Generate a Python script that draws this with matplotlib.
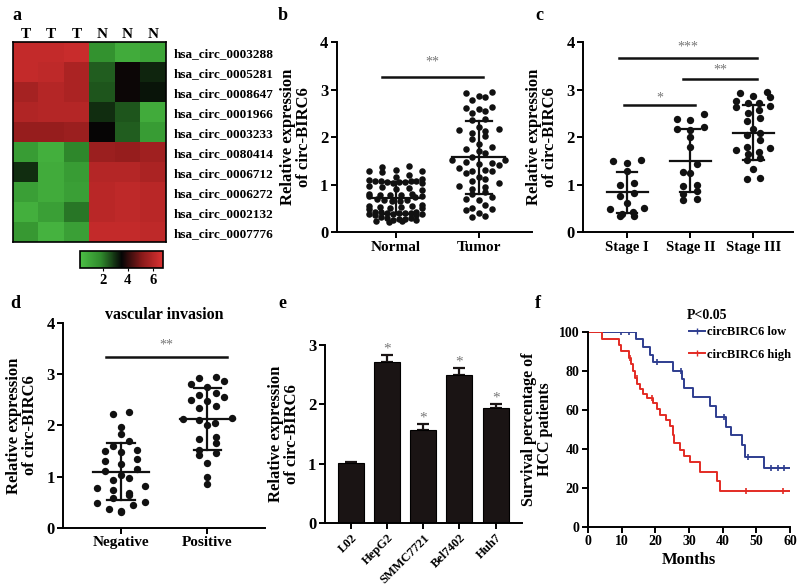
import numpy as np
import matplotlib
matplotlib.use("Agg")
import matplotlib.pyplot as plt
from matplotlib.colors import LinearSegmentedColormap
from matplotlib.lines import Line2D

plt.rcParams['font.family'] = ['Liberation Serif', 'DejaVu Serif']
plt.rcParams['font.weight'] = 'bold'
plt.rcParams['axes.labelweight'] = 'bold'

# ---- a: heatmap
col_labels = ['T', 'T', 'T', 'N', 'N', 'N']
row_labels = ['hsa_circ_0003288', 'hsa_circ_0005281', 'hsa_circ_0008647', 'hsa_circ_0001966',
              'hsa_circ_0003233', 'hsa_circ_0080414', 'hsa_circ_0006712', 'hsa_circ_0006272',
              'hsa_circ_0002132', 'hsa_circ_0007776']
heat = [
    [6.3, 6.3, 6.4, 1.6, 0.8, 1.0],
    [6.3, 6.2, 5.8, 2.4, 3.6, 3.1],
    [5.7, 6.0, 5.8, 2.5, 3.6, 3.3],
    [5.9, 6.0, 6.0, 3.0, 2.5, 0.8],
    [5.4, 5.4, 5.5, 3.5, 2.4, 1.3],
    [1.3, 0.7, 1.9, 5.5, 5.4, 5.6],
    [3.0, 0.8, 1.3, 6.0, 6.0, 5.8],
    [1.2, 0.8, 1.2, 6.1, 6.2, 6.1],
    [0.7, 1.2, 2.1, 6.1, 6.2, 6.1],
    [1.4, 0.6, 1.2, 6.3, 6.3, 6.2],
]

# ---- b: normal vs tumor
normal = [1.40, 1.37, 1.31, 1.29, 1.29, 1.26, 1.21, 1.17,
          1.12, 1.10, 1.09, 1.08, 1.07, 1.06, 1.05, 1.04, 1.03, 1.05, 1.08,
          0.96, 0.94, 0.92, 0.97, 0.90,
          0.80, 0.79, 0.78, 0.77, 0.76, 0.78, 0.75, 0.80,
          0.68, 0.66, 0.65, 0.67, 0.70,
          0.57, 0.55, 0.53, 0.52, 0.50, 0.54, 0.56, 0.51,
          0.43, 0.42, 0.41, 0.40, 0.39, 0.38, 0.37, 0.36, 0.40, 0.42, 0.38, 0.41,
          0.33, 0.31, 0.30, 0.28, 0.27, 0.26, 0.25, 0.24, 0.23, 0.22]
tumor = [2.93, 2.85, 2.78, 2.88, 2.95,
         2.63, 2.56, 2.51, 2.60, 2.62,
         2.38, 2.36,
         2.22, 2.15, 2.08, 2.13, 2.18, 2.02, 1.97,
         1.86, 1.75, 1.72, 1.80,
         1.66, 1.58, 1.52, 1.49, 1.53, 1.46, 1.41, 1.43,
         1.35, 1.30, 1.28, 1.31,
         1.17, 1.12, 1.08, 1.24,
         1.03, 0.98, 0.95, 0.92,
         0.84, 0.80, 0.74, 0.68, 0.70,
         0.50, 0.47, 0.52, 0.57,
         0.40, 0.35, 0.33]
b_groups = ['Normal', 'Tumor']
b_mean = [0.72, 1.58]
b_sd = [0.33, 0.77]

# ---- c: stages
stage1 = [1.52, 1.46, 1.50, 1.30, 1.00, 1.04, 0.83, 0.76, 0.61, 0.50, 0.52, 0.39, 0.34, 0.34, 0.43]
stage2 = [2.50, 2.38, 2.36, 2.22, 2.17, 2.16, 2.00, 1.79, 1.43, 1.25, 1.27, 1.00, 0.97,
          0.87, 0.80, 0.67, 0.70]
stage3 = [2.95, 2.88, 2.93, 2.84, 2.77, 2.72, 2.64, 2.73, 2.66, 2.57, 2.52, 2.41, 2.34, 2.18,
          2.05, 2.08, 1.94, 1.73, 1.80, 1.77, 1.64, 1.57, 1.68, 1.52, 1.34, 1.15, 1.13]
c_groups = ['Stage I', 'Stage II', 'Stage III']
c_mean = [0.84, 1.51, 2.10]
c_sd = [0.43, 0.66, 0.58]

# ---- d: vascular invasion
negative = [2.22, 2.26, 1.97, 1.83, 1.69, 1.60, 1.48, 1.52, 1.50, 1.30, 1.34, 1.24, 1.16, 1.12,
            1.03, 0.98, 0.93, 0.82, 0.75, 0.78, 0.68, 0.64, 0.49, 0.59, 0.45, 0.50, 0.38, 0.32, 0.34]
positive = [2.93, 2.87, 2.95, 2.74, 2.80, 2.59, 2.63, 2.50, 2.47, 2.55, 2.38, 2.33, 2.13, 2.05,
            2.00, 2.10, 2.15, 1.73, 1.78, 1.65, 1.53, 1.42, 1.46, 1.27, 0.99, 0.85]
d_groups = ['Negative', 'Positive']
d_mean = [1.10, 2.12]
d_sd = [0.56, 0.60]

# ---- e: cell lines
cell_lines = ['L02', 'HepG2', 'SMMC7721', 'Bel7402', 'Huh7']
cell_expr = [1.01, 2.70, 1.57, 2.49, 1.93]
cell_err = [0.02, 0.13, 0.09, 0.12, 0.08]
cell_sig = ['', '*', '*', '*', '*']

# ---- f: survival
low_t = [0, 14.4, 16.4, 18.4, 19.3, 25.3, 27.8, 28.5, 31.2, 36.1, 38.1, 41.0, 42.5, 45.8, 46.5, 52.2]
low_s = [100, 96, 92, 88, 84.3, 80, 75.6, 71.3, 66.6, 61.7, 56.5, 51.3, 47, 41.7, 36, 30.4]
low_cens = [9.7, 12.1, 20.5, 27.5, 40.3, 47.5, 54.4, 56.4, 58.1]
high_t = [0, 4.3, 9.3, 9.7, 12.2, 12.9, 13.4, 13.9, 14.6, 15.4, 16.4, 17.4, 19.3, 20.5, 21.5,
          23.1, 24.3, 25.1, 25.5, 27.2, 28.4, 30.2, 33.2, 38.3, 39.1]
high_s = [100, 96.2, 93, 90, 86.4, 83.5, 80, 76, 73, 70.4, 68.3, 66, 63.5, 60.3, 57.4,
          54.8, 51.7, 47, 43, 39.5, 36.5, 33, 28.3, 23.5, 18.6]
high_cens = [12.5, 14.5, 19.0, 47.0, 58.0]


def prism(ax, xsize=11, ysize=12):
    for s in ['top', 'right']:
        ax.spines[s].set_visible(False)
    for s in ['left', 'bottom']:
        ax.spines[s].set_linewidth(1.4)
    ax.tick_params(width=1.4, length=4, pad=2)
    ax.tick_params(axis='x', labelsize=xsize)
    ax.tick_params(axis='y', labelsize=ysize)


def swarm_x(vals, center, half_w, step, bin_h):
    # spread points of similar value sideways, lowest in the middle of each row
    vals = np.asarray(vals, dtype=float)
    xs = np.zeros(len(vals))
    bins = np.floor(vals / bin_h)
    for b in np.unique(bins):
        idx = np.where(bins == b)[0]
        idx = idx[np.argsort(vals[idx])]
        n = len(idx)
        w = min(half_w, (n - 1) * step / 2)
        offs = np.linspace(-w, w, n)
        offs = offs[np.argsort(np.abs(offs), kind='stable')]
        xs[idx] = center + offs
    return xs


def dot_plot(ax, groups, names, means, sds, half_w, step, bin_h, size, xsize=11):
    for i, vals in enumerate(groups):
        ax.scatter(swarm_x(vals, i, half_w, step, bin_h), vals, s=size, color='#111111',
                   zorder=2, linewidths=0)
        m, sd = means[i], sds[i]
        ax.plot([i - 0.32, i + 0.32], [m, m], color='#111111', lw=1.6, zorder=3)
        ax.plot([i, i], [m - sd, m + sd], color='#111111', lw=1.6, zorder=3)
        for y in (m - sd, m + sd):
            ax.plot([i - 0.16, i + 0.16], [y, y], color='#111111', lw=1.6, zorder=3)
    ax.set_xticks(range(len(names)))
    ax.set_xticklabels(names)
    ax.set_ylim(0, 4)
    ax.set_yticks([0, 1, 2, 3, 4])
    ax.set_ylabel('Relative expression\nof circ-BIRC6', fontsize=12, linespacing=1.0, labelpad=6)
    prism(ax, xsize=xsize)


def sig(ax, x0, x1, y, txt, ty):
    ax.plot([x0, x1], [y, y], color='#111111', lw=1.8, clip_on=False)
    ax.text((x0 + x1) / 2, ty, txt, ha='center', va='center', fontsize=10, color='#777777',
            fontweight='normal')


fig = plt.figure(figsize=(8, 5.88), dpi=100)

# a
ax = fig.add_axes([0.016, 0.588, 0.191, 0.340])
cmap = LinearSegmentedColormap.from_list('gkr', ['#4cbf45', '#2f8a2c', '#050505', '#8a1a1a', '#dc3232'])
im = ax.imshow(np.array(heat), cmap=cmap, vmin=0.2, vmax=6.8, aspect='auto', interpolation='nearest')
ax.set_xticks(range(len(col_labels)))
ax.set_xticklabels(col_labels, fontsize=11)
ax.xaxis.tick_top()
ax.set_yticks(range(len(row_labels)))
ax.set_yticklabels(row_labels, fontsize=9.5)
ax.yaxis.tick_right()
ax.tick_params(axis='y', length=0, pad=6)
ax.tick_params(axis='x', length=0, pad=1)
for s in ax.spines.values():
    s.set_linewidth(1.2)
cax = fig.add_axes([0.1, 0.544, 0.104, 0.029])
cb = fig.colorbar(im, cax=cax, orientation='horizontal', ticks=[2, 4, 6])
cb.outline.set_linewidth(1.2)
cax.tick_params(labelsize=10.5, length=2, pad=2)

# b
ax = fig.add_axes([0.421, 0.605, 0.244, 0.323])
dot_plot(ax, [normal, tumor], b_groups, b_mean, b_sd, 0.32, 0.16, 0.13, 22)
ax.set_xlim(-0.71, 1.64)
sig(ax, -0.17, 1.05, 3.28, '**', 3.58)

# c
ax = fig.add_axes([0.729, 0.605, 0.2625, 0.323])
dot_plot(ax, [stage1, stage2, stage3], c_groups, c_mean, c_sd, 0.27, 0.22, 0.18, 28, xsize=10.5)
ax.set_xlim(-0.7, 2.63)
sig(ax, -0.13, 2.06, 3.68, '***', 3.9)
sig(ax, 0.89, 2.06, 3.22, '**', 3.42)
sig(ax, -0.05, 1.08, 2.69, '*', 2.82)

# d
ax = fig.add_axes([0.079, 0.102, 0.2525, 0.349])
dot_plot(ax, [negative, positive], d_groups, d_mean, d_sd, 0.28, 0.19, 0.17, 28)
ax.set_xlim(-0.67, 1.67)
sig(ax, -0.17, 1.23, 3.34, '**', 3.57)
ax.set_title('vascular invasion', fontsize=11.5, fontweight='bold', pad=3)

# e
ax = fig.add_axes([0.406, 0.11, 0.246, 0.304])
x = np.arange(len(cell_lines))
ax.bar(x, cell_expr, width=0.72, color='#1a1414', edgecolor='#000000', linewidth=0.8, zorder=2)
ax.errorbar(x, cell_expr, yerr=[np.zeros(len(x)), cell_err], fmt='none', ecolor='#1a1414',
            elinewidth=1.6, capsize=4, capthick=1.6, zorder=1)
for xi, v, e, t in zip(x, cell_expr, cell_err, cell_sig):
    ax.text(xi, v + e + 0.1, t, ha='center', va='center', fontsize=11, color='#777777',
            fontweight='normal')
ax.set_xlim(-0.73, 4.72)
ax.set_ylim(0, 3)
ax.set_yticks([0, 1, 2, 3])
ax.set_xticks(x)
ax.set_xticklabels(cell_lines, rotation=45, ha='right', rotation_mode='anchor')
ax.set_ylabel('Relative expression\nof circ-BIRC6', fontsize=12, linespacing=1.0, labelpad=6)
prism(ax, xsize=9)

# f
ax = fig.add_axes([0.735, 0.104, 0.2525, 0.332])
for t, s, cens, col in [(low_t, low_s, low_cens, '#2e3d8f'), (high_t, high_s, high_cens, '#e32b24')]:
    ax.step(t + [60], s + [s[-1]], where='post', color=col, lw=1.4)
    cy = [s[np.searchsorted(t, c, side='right') - 1] for c in cens]
    ax.plot(cens, cy, ls='none', marker='|', ms=5, mew=1.2, color=col)
ax.set_xlim(0, 60)
ax.set_ylim(0, 100)
ax.set_xticks(range(0, 61, 10))
ax.set_yticks(range(0, 101, 20))
ax.set_xlabel('Months', fontsize=12, labelpad=3)
ax.set_ylabel('Survival percentage of\nHCC patients', fontsize=11.5, linespacing=1.0, labelpad=4)
prism(ax, xsize=10, ysize=10)
handles = [Line2D([], [], color='#2e3d8f', lw=1.4, marker='|', ms=4),
           Line2D([], [], color='#e32b24', lw=1.4, marker='|', ms=4)]
ax.legend(handles, ['circBIRC6 low', 'circBIRC6 high'], loc='upper left',
          bbox_to_anchor=(0.47, 1.06), frameon=False, fontsize=9, handlelength=1.3,
          handletextpad=0.15, labelspacing=0.85, borderpad=0)
ax.text(0.49, 1.085, 'P<0.05', transform=ax.transAxes, fontsize=10, va='center', ha='left')

# panel letters
for lab, px, py in [('a', 12, 15), ('b', 278, 15), ('c', 535, 15),
                    ('d', 10, 303), ('e', 278, 303), ('f', 535, 303)]:
    fig.text(px / 800, 1 - py / 588, lab, fontsize=13, fontweight='bold', ha='left', va='center')

fig.savefig('out.png', dpi=100)
